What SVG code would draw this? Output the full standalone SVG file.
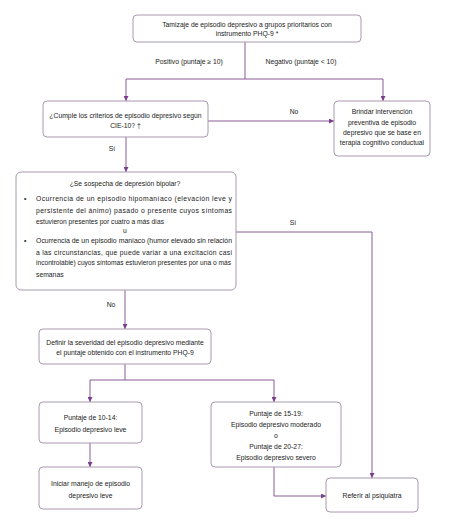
<svg xmlns="http://www.w3.org/2000/svg" width="449" height="522" viewBox="0 0 449 522">
<defs>
<style>
.box{fill:#fff;stroke:#a998ae;stroke-width:1}
.c{fill:none;stroke:#8a5d98;stroke-width:1}
text{font-family:"Liberation Sans",Arial,sans-serif;font-size:6.8px;fill:#222}
.m{text-anchor:middle}
</style>
<marker id="ah" viewBox="0 0 6 6" refX="6" refY="3" markerWidth="5" markerHeight="5" orient="auto" markerUnits="userSpaceOnUse">
<path d="M0,0 L6,3 L0,6 Z" fill="#7a3f8c"/>
</marker>
</defs>
<rect width="449" height="522" fill="#fff"/>
<g id="connectors">
<path class="c" d="M245,42 V79"/>
<path class="c" d="M126,79 H383"/>
<path class="c" d="M126,79 V101" marker-end="url(#ah)"/>
<path class="c" d="M383,79 V101" marker-end="url(#ah)"/>
<path class="c" d="M208,121 H334" marker-end="url(#ah)"/>
<path class="c" d="M126,137 V172" marker-end="url(#ah)"/>
<path class="c" d="M236,232 H372 V478" marker-end="url(#ah)"/>
<path class="c" d="M125,290 V329" marker-end="url(#ah)"/>
<path class="c" d="M125,364 V380"/>
<path class="c" d="M90,380 H274"/>
<path class="c" d="M90,380 V402" marker-end="url(#ah)"/>
<path class="c" d="M274,380 V402" marker-end="url(#ah)"/>
<path class="c" d="M90,443 V467" marker-end="url(#ah)"/>
<path class="c" d="M274,467 V496 H326" marker-end="url(#ah)"/>
<text class="m" x="189" y="64">Positivo (puntaje ≥ 10)</text>
<text class="m" x="301" y="64">Negativo (puntaje &lt; 10)</text>
<text class="m" x="294" y="114">No</text>
<text class="m" x="112" y="151">Sí</text>
<text class="m" x="293" y="225">Sí</text>
<text class="m" x="111" y="307">No</text>
</g>
<g id="n1">
<rect class="box" x="133" y="15" width="228" height="27" rx="4"/>
<text class="m" x="247" y="27">Tamizaje de episodio depresivo a grupos prioritarios con</text>
<text class="m" x="247" y="36">instrumento PHQ-9 *</text>
</g>
<g id="n2">
<rect class="box" x="43" y="101" width="165" height="36" rx="4"/>
<text class="m" x="125.5" y="118">¿Cumple los criterios de episodio depresivo según</text>
<text class="m" x="125.5" y="128">CIE-10? †</text>
</g>
<g id="n3">
<rect class="box" x="334" y="101" width="96" height="55" rx="4"/>
<text class="m" x="382" y="114">Brindar intervención</text>
<text class="m" x="382" y="125">preventiva de episodio</text>
<text class="m" x="382" y="135">depresivo que se base en</text>
<text class="m" x="382" y="145">terapia cognitivo conductual</text>
</g>
<g id="n4">
<rect class="box" x="16" y="172" width="220" height="118" rx="5"/>
<text class="m" x="125" y="186">¿Se sospecha de depresión bipolar?</text>
<text x="24" y="201">•</text>
<text x="36" y="201" textLength="196" lengthAdjust="spacing">Ocurrencia de un episodio hipomaníaco (elevación leve y</text>
<text x="36" y="213" textLength="196" lengthAdjust="spacing">persistente del ánimo) pasado o presente cuyos síntomas</text>
<text x="36" y="224" textLength="128" lengthAdjust="spacingAndGlyphs">estuvieron presentes por cuatro a más días</text>
<text class="m" x="125" y="233">u</text>
<text x="24" y="243">•</text>
<text x="36" y="243" textLength="196" lengthAdjust="spacingAndGlyphs">Ocurrencia de un episodio maníaco (humor elevado sin relación</text>
<text x="36" y="255" textLength="196" lengthAdjust="spacing">a las circunstancias, que puede variar a una excitación casi</text>
<text x="36" y="265" textLength="195" lengthAdjust="spacingAndGlyphs">incontrolable) cuyos síntomas estuvieron presentes por una o más</text>
<text x="36" y="277">semanas</text>
</g>
<g id="n5">
<rect class="box" x="39" y="329" width="172" height="35" rx="4"/>
<text class="m" x="125" y="345">Definir la severidad del episodio depresivo mediante</text>
<text class="m" x="125" y="355">el puntaje obtenido con el instrumento PHQ-9</text>
</g>
<g id="n6">
<rect class="box" x="39" y="402" width="103" height="41" rx="4"/>
<text class="m" x="90.5" y="420">Puntaje de 10-14:</text>
<text class="m" x="90.5" y="432">Episodio depresivo leve</text>
</g>
<g id="n7">
<rect class="box" x="211" y="402" width="130" height="65" rx="4"/>
<text class="m" x="276" y="416">Puntaje de 15-19:</text>
<text class="m" x="276" y="427">Episodio depresivo moderado</text>
<text class="m" x="276" y="438">o</text>
<text class="m" x="276" y="449">Puntaje de 20-27:</text>
<text class="m" x="276" y="460">Episodio depresivo severo</text>
</g>
<g id="n8">
<rect class="box" x="39" y="467" width="103" height="42" rx="4"/>
<text class="m" x="90.5" y="486">Iniciar manejo de episodio</text>
<text class="m" x="90.5" y="498">depresivo leve</text>
</g>
<g id="n9">
<rect class="box" x="326" y="478" width="92" height="34" rx="4"/>
<text class="m" x="372" y="498">Referir al psiquiatra</text>
</g>
</svg>
